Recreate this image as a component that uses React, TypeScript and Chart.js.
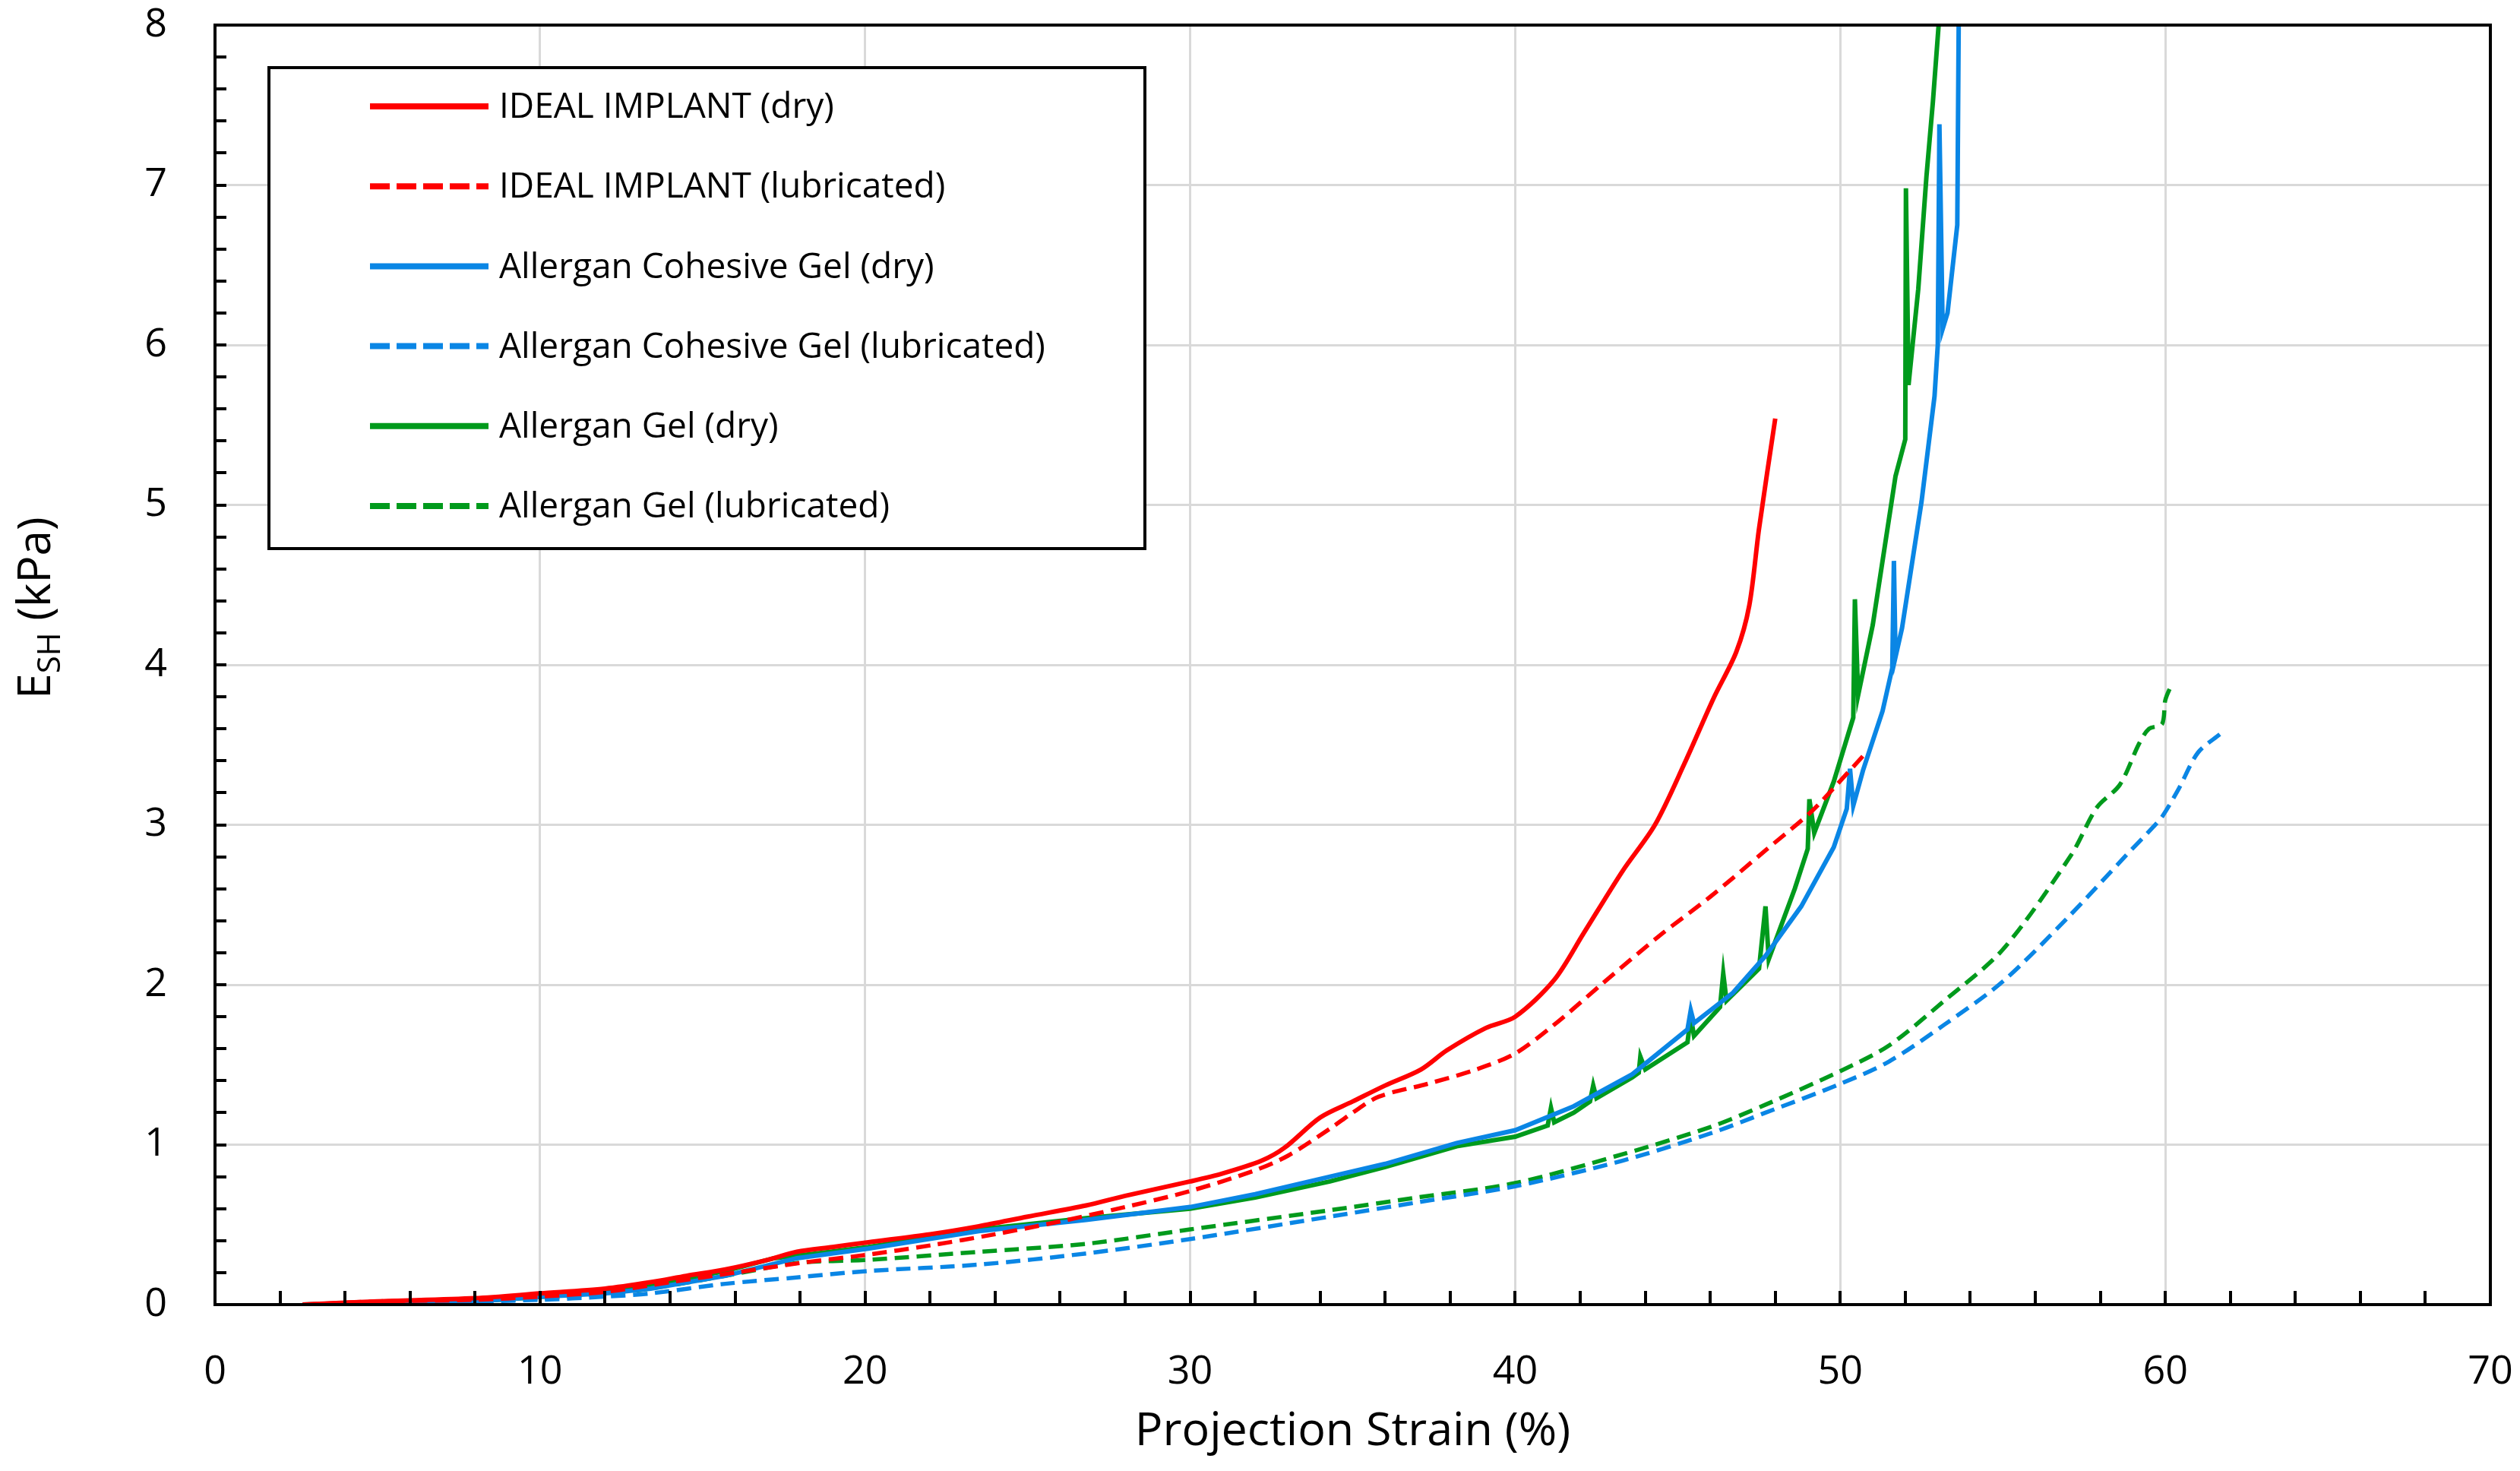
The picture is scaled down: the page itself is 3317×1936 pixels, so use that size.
import { useEffect, useRef } from 'react';
import { Chart, registerables } from 'chart.js';

Chart.register(...registerables);

// values (strain %, E_SH kPa)
const idealDryX = [2.7, 5, 8, 10, 12, 13.4, 14.5, 15.7, 17, 17.9, 19, 20.1, 22, 23.5, 25, 26.8, 28, 30, 31, 32.2, 32.9, 34, 35, 36, 37.1, 37.9, 39.1, 40, 41.2, 42.1, 43.3, 44.3, 45.2, 46.1, 46.8, 47.2, 47.5, 48.0];
const idealDryY = [0, 0.02, 0.04, 0.07, 0.1, 0.14, 0.18, 0.22, 0.28, 0.33, 0.36, 0.39, 0.44, 0.49, 0.55, 0.62, 0.68, 0.77, 0.82, 0.9, 0.98, 1.17, 1.27, 1.37, 1.47, 1.59, 1.73, 1.8, 2.03, 2.32, 2.71, 3.0, 3.38, 3.79, 4.08, 4.37, 4.85, 5.54];

const idealLubX = [2.7, 5, 8, 10, 12, 14, 16, 18, 20, 22, 24, 26, 28, 30, 32, 33, 34.3, 35, 35.8, 37.3, 38.8, 40, 41.2, 42.7, 44.4, 46, 47.7, 49.1, 49.8, 50.7];
const idealLubY = [0, 0.02, 0.03, 0.05, 0.08, 0.14, 0.2, 0.26, 0.31, 0.37, 0.44, 0.52, 0.61, 0.71, 0.84, 0.93, 1.1, 1.2, 1.3, 1.38, 1.47, 1.57, 1.75, 2.01, 2.3, 2.55, 2.84, 3.08, 3.23, 3.43];

const cohesiveDryX = [2.7, 5, 8, 10.1, 12, 13.4, 15.7, 17.9, 20.1, 23.5, 26.8, 30, 32, 34.3, 36, 38.2, 40, 41.8, 43.6, 45.3, 45.4, 45.5, 46.7, 47.7, 48.8, 49.8, 50.2, 50.3, 50.4, 50.7, 51.3, 51.6, 51.65, 51.7, 51.9, 52.5, 52.9, 53.0, 53.05, 53.15, 53.3, 53.6, 53.65];
const cohesiveDryY = [0, 0.01, 0.02, 0.05, 0.07, 0.1, 0.18, 0.29, 0.35, 0.46, 0.53, 0.61, 0.69, 0.8, 0.88, 1.01, 1.09, 1.24, 1.44, 1.72, 1.84, 1.76, 1.95, 2.18, 2.49, 2.86, 3.1, 3.35, 3.12, 3.34, 3.71, 3.98, 4.65, 4.05, 4.23, 5.02, 5.68, 6.0, 7.38, 6.1, 6.2, 6.75, 8.2];

const cohesiveLubX = [2.7, 6, 10, 12, 13.4, 15.7, 17.9, 20.1, 23.5, 26.8, 30, 34.3, 37, 40, 43.3, 46, 47.7, 50, 51.5, 53.2, 55, 57, 58.8, 59.6, 59.9, 60.4, 61.0, 61.7];
const cohesiveLubY = [0, 0.01, 0.03, 0.05, 0.07, 0.13, 0.17, 0.21, 0.25, 0.32, 0.41, 0.55, 0.64, 0.74, 0.9, 1.07, 1.2, 1.38, 1.52, 1.75, 2.02, 2.42, 2.81, 2.98, 3.05, 3.22, 3.45, 3.57];

const gelDryX = [2.7, 5, 8, 10.1, 12, 13.4, 15.7, 17.2, 18.5, 20.1, 23.5, 26.8, 30, 32, 34.3, 36, 38.2, 40, 41, 41.1, 41.2, 41.8, 42.3, 42.4, 42.5, 43.6, 43.8, 43.85, 44, 45.3, 45.4, 45.5, 46.3, 46.4, 46.5, 47.5, 47.7, 47.8, 48.6, 49, 49.05, 49.2, 49.8, 50.4, 50.45, 50.55, 51.0, 51.7, 52.0, 52.02, 52.1, 52.4, 52.65, 52.85, 53.1];
const gelDryY = [0, 0.01, 0.02, 0.05, 0.08, 0.12, 0.21, 0.29, 0.32, 0.36, 0.47, 0.54, 0.6, 0.67, 0.77, 0.86, 0.99, 1.05, 1.12, 1.23, 1.14, 1.2, 1.27, 1.37, 1.29, 1.42, 1.45, 1.55, 1.47, 1.64, 1.8, 1.68, 1.86, 2.07, 1.9, 2.1, 2.49, 2.16, 2.6, 2.85, 3.16, 2.95, 3.27, 3.67, 4.41, 3.81, 4.25, 5.18, 5.41, 6.98, 5.75, 6.35, 7.05, 7.52, 8.2];

const gelLubX = [2.7, 6, 10, 12, 13.4, 15.7, 17.9, 20.1, 23.5, 26.8, 30, 34.3, 37, 40, 43.3, 46, 47.7, 50, 51.5, 53.2, 55, 57.1, 57.9, 58.6, 59.2, 59.5, 59.9, 60.0, 60.2];
const gelLubY = [0, 0.01, 0.04, 0.07, 0.1, 0.18, 0.26, 0.28, 0.33, 0.38, 0.47, 0.59, 0.67, 0.76, 0.94, 1.11, 1.25, 1.46, 1.62, 1.9, 2.22, 2.81, 3.11, 3.25, 3.51, 3.6, 3.63, 3.78, 3.88];

const seriesLabels = [
  'IDEAL IMPLANT (dry)',
  'IDEAL IMPLANT (lubricated)',
  'Allergan Cohesive Gel (dry)',
  'Allergan Cohesive Gel (lubricated)',
  'Allergan Gel (dry)',
  'Allergan Gel (lubricated)',
];

const xTicks = [0, 10, 20, 30, 40, 50, 60, 70];
const yTicks = [0, 1, 2, 3, 4, 5, 6, 7, 8];

const RED = '#ff0000';
const BLUE = '#0a86e5';
const GREEN = '#009a1c';
const FONT = "'Open Sans', 'Noto Sans', sans-serif";
const W = 3317;
const H = 1936;

const zip = (xs: number[], ys: number[]) => xs.map((x, i) => ({ x, y: ys[i] }));

// no extra label-overflow padding, so layout.padding alone places the plot
const noPad = (s: any) => {
  s.paddingTop = 0;
  s.paddingBottom = 0;
  s.paddingLeft = 0;
  s.paddingRight = 0;
};

const plotDecor = {
  id: 'plotDecor',
  afterDatasetsDraw(chart: any) {
    const { ctx, chartArea: a, scales } = chart;
    const x = scales.x;
    const y = scales.y;
    ctx.save();

    // inward tick marks, major and minor
    ctx.strokeStyle = '#000';
    ctx.lineWidth = 4;
    ctx.beginPath();
    for (let v = 2; v < 70; v += 2) {
      const px = Math.round(x.getPixelForValue(v));
      ctx.moveTo(px, a.bottom);
      ctx.lineTo(px, a.bottom - 18);
    }
    for (let i = 1; i < 40; i++) {
      const py = Math.round(y.getPixelForValue(i * 0.2));
      ctx.moveTo(a.left, py);
      ctx.lineTo(a.left + 15, py);
    }
    ctx.stroke();

    // frame
    ctx.lineWidth = 4;
    ctx.strokeRect(a.left, a.top, a.right - a.left, a.bottom - a.top);

    // legend box
    const lx = 354, ly = 89, lw = 1153, lh = 633;
    ctx.fillStyle = '#fff';
    ctx.fillRect(lx, ly, lw, lh);
    ctx.lineWidth = 4;
    ctx.strokeStyle = '#000';
    ctx.strokeRect(lx, ly, lw, lh);
    ctx.font = `46px ${FONT}`;
    ctx.textBaseline = 'middle';
    ctx.textAlign = 'left';
    chart.data.datasets.forEach((ds: any, i: number) => {
      const cy = 140 + i * 105.2;
      ctx.strokeStyle = ds.borderColor;
      ctx.lineWidth = 8;
      ctx.setLineDash(ds.borderDash && ds.borderDash.length ? [26, 9] : []);
      ctx.beginPath();
      ctx.moveTo(487, cy);
      ctx.lineTo(643, cy);
      ctx.stroke();
      ctx.setLineDash([]);
      ctx.fillStyle = '#000';
      ctx.fillText(ds.label, 657, cy + 2);
    });

    // axis titles
    ctx.fillStyle = '#000';
    ctx.textBaseline = 'alphabetic';
    ctx.font = `61px ${FONT}`;
    ctx.textAlign = 'center';
    ctx.fillText('Projection Strain (%)', (a.left + a.right) / 2, 1902);

    ctx.translate(66, 800);
    ctx.rotate(-Math.PI / 2);
    ctx.textAlign = 'left';
    const big = `60px ${FONT}`;
    const small = `42px ${FONT}`;
    ctx.font = big;
    const wE = ctx.measureText('E').width;
    const wRest = ctx.measureText(' (kPa)').width;
    ctx.font = small;
    const wSub = ctx.measureText('SH').width;
    let cx = -(wE + wSub + wRest) / 2;
    ctx.font = big;
    ctx.fillText('E', cx, 0);
    cx += wE;
    ctx.font = small;
    ctx.fillText('SH', cx, 13);
    cx += wSub;
    ctx.font = big;
    ctx.fillText(' (kPa)', cx, 0);

    ctx.restore();
  },
};

export default function App() {
  const canvasRef = useRef<HTMLCanvasElement>(null);

  useEffect(() => {
    if (!canvasRef.current) return;
    document.body.style.margin = '0';

    const solid = { borderWidth: 6, pointRadius: 0, showLine: true, fill: false };
    const dashed = { ...solid, borderWidth: 5.5, borderDash: [19, 10] };

    const chart = new Chart(canvasRef.current, {
      type: 'scatter',
      data: {
        datasets: [
          { ...solid, label: seriesLabels[0], data: zip(idealDryX, idealDryY), borderColor: RED, tension: 0.3 },
          { ...dashed, label: seriesLabels[1], data: zip(idealLubX, idealLubY), borderColor: RED, tension: 0.3 },
          { ...solid, label: seriesLabels[2], data: zip(cohesiveDryX, cohesiveDryY), borderColor: BLUE, tension: 0 },
          { ...dashed, label: seriesLabels[3], data: zip(cohesiveLubX, cohesiveLubY), borderColor: BLUE, tension: 0.3 },
          { ...solid, label: seriesLabels[4], data: zip(gelDryX, gelDryY), borderColor: GREEN, tension: 0 },
          { ...dashed, label: seriesLabels[5], data: zip(gelLubX, gelLubY), borderColor: GREEN, tension: 0.3 },
        ],
      },
      options: {
        animation: false,
        responsive: false,
        devicePixelRatio: 1,
        layout: { padding: { top: 33, right: 39, left: 0, bottom: 0 } },
        plugins: { legend: { display: false }, tooltip: { enabled: false }, title: { display: false } },
        scales: {
          x: {
            type: 'linear',
            min: 0,
            max: 70,
            afterBuildTicks: (s: any) => { s.ticks = xTicks.map((v) => ({ value: v })); },
            afterFit: (s: any) => { s.height = 219; noPad(s); },
            grid: { color: '#d9d9d9', lineWidth: 3, drawTicks: false },
            border: { display: false },
            ticks: { padding: 58, color: '#000', font: { size: 52, family: FONT } },
          },
          y: {
            type: 'linear',
            min: 0,
            max: 8,
            afterBuildTicks: (s: any) => { s.ticks = yTicks.map((v) => ({ value: v })); },
            afterFit: (s: any) => { s.width = 283; noPad(s); },
            grid: { color: '#d9d9d9', lineWidth: 3, drawTicks: false },
            border: { display: false },
            ticks: { padding: 63, color: '#000', font: { size: 52, family: FONT } },
          },
        },
      },
      plugins: [plotDecor],
    });

    return () => chart.destroy();
  }, []);

  return (
    <div style={{ position: 'fixed', left: 0, top: 0, width: W, height: H, background: '#fff' }}>
      <canvas ref={canvasRef} width={W} height={H} style={{ width: W, height: H, display: 'block' }} />
    </div>
  );
}
